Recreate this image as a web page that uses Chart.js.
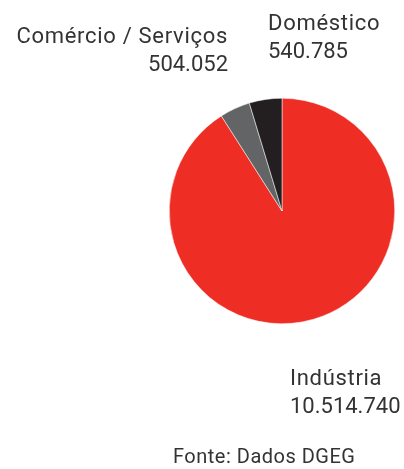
<!DOCTYPE html>
<html lang="pt">
<head>
<meta charset="utf-8">
<script src="https://cdn.jsdelivr.net/npm/chart.js@4"></script>
<style>
  html, body { margin: 0; padding: 0; background: #fff; }
  #wrap { position: relative; width: 404px; height: 469px; }
</style>
</head>
<body>
<div id="wrap"><canvas id="chartConsumo" width="404" height="469"></canvas></div>
<script>
// Consumo por sector
const sectores = ['Indústria', 'Comércio / Serviços', 'Doméstico'];
const consumos = [10514740, 504052, 540785];
const cores = ['#EE2E24', '#636466', '#231F20'];
const fonte = 'Fonte: Dados DGEG';

// separador de milhares com ponto
function formatar(n) {
    return String(n).replace(/\B(?=(\d{3})+(?!\d))/g, '.');
}

// onde fica cada etiqueta (nome + valor)
const posEtiquetas = [
    { x: 290, y: 385, align: 'left' },
    { x: 228, y: 43, align: 'right' },
    { x: 268, y: 30, align: 'left' }
];

const etiquetas = {
    id: 'etiquetas',
    afterDraw(chart) {
        const ctx = chart.ctx;
        ctx.save();
        ctx.fillStyle = '#333333';
        ctx.font = '22px Roboto';
        sectores.forEach((nome, i) => {
            const p = posEtiquetas[i];
            ctx.textAlign = p.align;
            ctx.letterSpacing = '0.7px';
            ctx.fillText(nome, p.x, p.y);
            ctx.letterSpacing = '0px';
            ctx.fillText(formatar(consumos[i]), p.x, p.y + 28);
        });
        ctx.font = '20px Roboto';
        ctx.textAlign = 'left';
        ctx.letterSpacing = '0.5px';
        ctx.fillText(fonte, 173, 463);
        ctx.restore();
    }
};

const ctxConsumo = document.getElementById('chartConsumo');
new Chart(ctxConsumo, {
    type: 'pie',
    data: {
        labels: sectores,
        datasets: [{
            data: consumos,
            backgroundColor: cores,
            borderColor: '#ffffff',
            borderWidth: 0.5
        }]
    },
    options: {
        responsive: false,
        animation: false,
        layout: { padding: { left: 169, right: 9, top: 98, bottom: 145 } },
        plugins: {
            legend: { display: false },
            tooltip: { enabled: false }
        }
    },
    plugins: [etiquetas]
});
</script>
</body>
</html>
